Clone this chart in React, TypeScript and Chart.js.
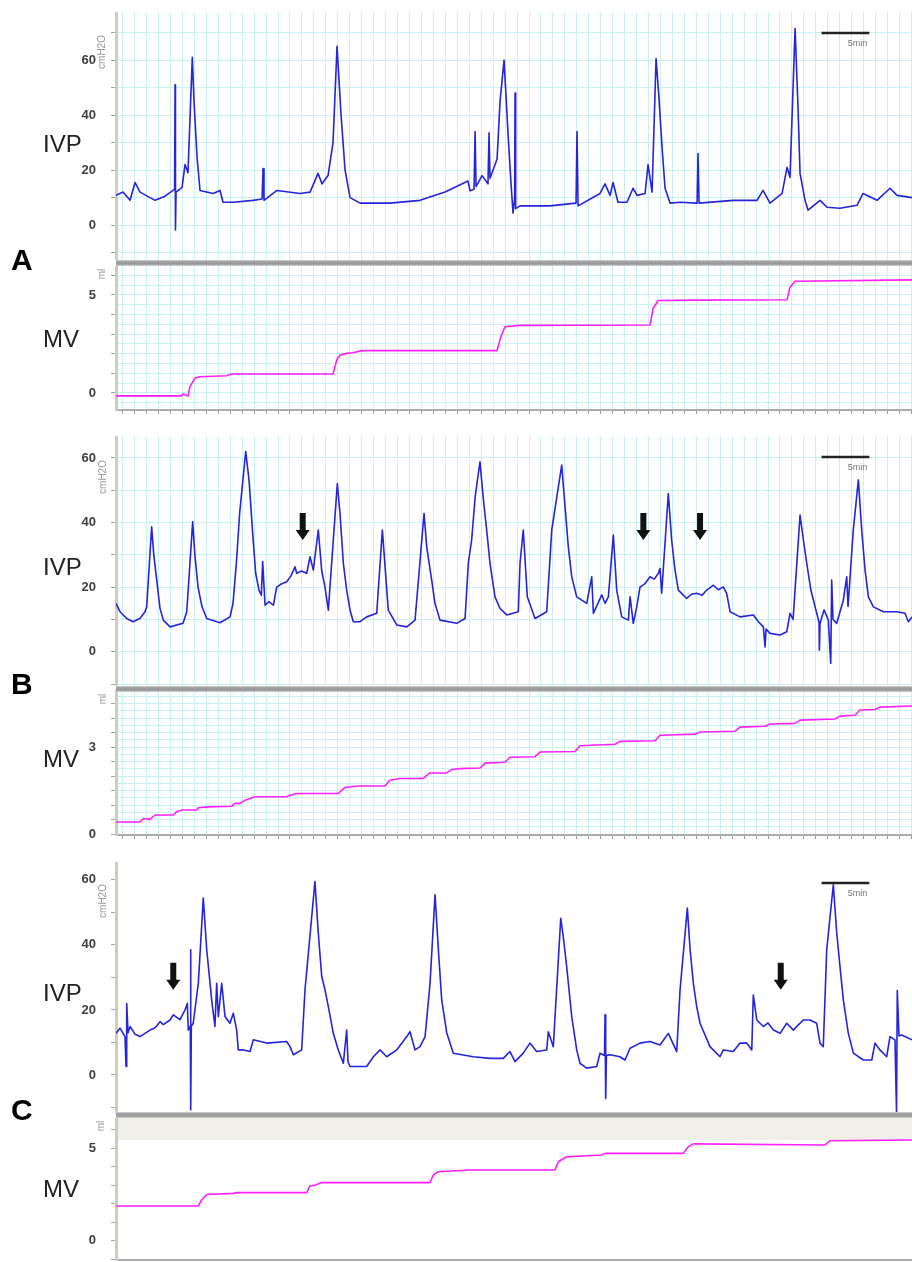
import React, { useEffect, useRef } from "react";
import { Chart, registerables } from "chart.js";
Chart.register(...registerables);

// ---------- axis ranges (minutes) ----------
const X_MIN = -3.2;
const X_MAX = 80.06;
const X_GRID_STEP = 1.25;

// ---------- series: [time (min), value] ----------
const ivpA: [number, number][] = [
  [-3.2, 10.8], [-2.47, 12], [-1.73, 9], [-1.21, 15.5], [-0.69, 12], [0.36, 10], [0.88, 9], [1.93, 10.5],
  [2.77, 12.6], [2.93, 13], [2.98, 51], [3.02, -1.8], [3.08, 12], [3.71, 13.7], [4.02, 22], [4.33, 19],
  [4.78, 61], [4.96, 45], [5.28, 24.5], [5.59, 12.6], [6.95, 11.5], [7.68, 12.6], [8.0, 8.3], [9.04, 8.3],
  [11.13, 9], [12.08, 9.5], [12.18, 20.6], [12.28, 9], [13.64, 12.6], [16.05, 11.5], [17.1, 12], [17.93, 18.8],
  [18.35, 15], [18.98, 18], [19.5, 30], [19.92, 65], [20.34, 40], [20.76, 20], [21.28, 10], [22.33, 8],
  [25.46, 8], [28.6, 9], [31.22, 12], [33.62, 16], [33.83, 12.5], [34.25, 13], [34.36, 34], [34.46, 14],
  [35.09, 18], [35.71, 15], [35.82, 33.6], [35.92, 17], [36.24, 20], [36.66, 24], [36.97, 45], [37.39, 60],
  [37.81, 33], [38.12, 15], [38.33, 4.3], [38.5, 10], [38.54, 48], [38.6, 6], [39.06, 7], [42.2, 7],
  [44.92, 8], [45.02, 34], [45.13, 7], [47.43, 11.5], [47.95, 15], [48.48, 10.8], [48.79, 15.5], [49.31, 8.3],
  [50.25, 8.3], [50.88, 13.4], [51.3, 10.8], [52.14, 11.5], [52.45, 22], [52.87, 12], [53.29, 60.6], [53.6, 46],
  [53.92, 28], [54.23, 13.4], [54.75, 8], [55.8, 8.3], [57.58, 8], [57.68, 26], [57.79, 8], [61.34, 9],
  [63.85, 9], [64.48, 12.6], [65.21, 8], [66.47, 11.5], [66.99, 21], [67.3, 17.3], [67.83, 71.5], [68.14, 42.6],
  [68.35, 18.8], [68.87, 9], [69.19, 5.4], [70.44, 9], [71.17, 6.5], [72.53, 6.1], [74.31, 7.2], [74.94, 11.5],
  [76.4, 9], [77.76, 13.4], [78.5, 10.8], [80.06, 10],
];

const mvA: [number, number][] = [
  [-3.2, -0.15], [3.67, -0.15], [3.81, -0.05], [4.33, -0.15], [4.54, 0.32], [5.06, 0.76], [5.59, 0.83],
  [8.38, 0.88], [8.9, 0.97], [19.5, 0.97], [19.89, 1.68], [20.23, 1.94], [20.93, 2.02], [21.59, 2.05],
  [22.5, 2.16], [36.65, 2.16], [37.07, 2.9], [37.49, 3.38], [39.06, 3.45], [52.66, 3.47], [52.97, 4.3],
  [53.5, 4.72], [57.89, 4.74], [66.99, 4.76], [67.3, 5.4], [67.83, 5.7], [80.06, 5.77],
];

const ivpB: [number, number][] = [
  [-3.2, 15], [-2.78, 12.4], [-2.08, 10.3], [-1.42, 9.3], [-0.69, 10.3], [-0.17, 12.4], [0.01, 13.9],
  [0.53, 38.7], [0.75, 30], [1.06, 22.2], [1.4, 13.5], [1.75, 9.8], [2.45, 7.7], [3.81, 8.8], [4.2, 12.4],
  [4.82, 40.2], [5.05, 30], [5.38, 20], [5.79, 14], [6.29, 10.3], [7.68, 9], [8.73, 10.8], [9.04, 15],
  [9.39, 27.4], [9.73, 42.8], [10.37, 62], [10.72, 53], [11.07, 37.7], [11.41, 24.3], [11.76, 19],
  [12.0, 17.5], [12.14, 27.9], [12.39, 14.4], [12.8, 15.5], [13.26, 14.4], [13.61, 20], [14.1, 21],
  [14.66, 21.7], [15.1, 23.5], [15.52, 26.3], [15.7, 24.3], [16.2, 25], [16.75, 24.3], [17.09, 29.4],
  [17.44, 25.3], [17.96, 37.7], [18.32, 25], [18.66, 20], [19.01, 12.9], [19.18, 20], [19.95, 52.1],
  [20.23, 42.8], [20.58, 27.4], [20.93, 19], [21.28, 12.9], [21.62, 9.3], [22.32, 9.3], [23.02, 10.8],
  [24.07, 11.9], [24.66, 37.7], [25.28, 12.9], [26.16, 8.3], [27.21, 7.7], [28.08, 9.8], [29.02, 42.8],
  [29.3, 32.5], [29.82, 22.2], [30.16, 15], [30.69, 9.8], [32.44, 8.8], [33.31, 10.3], [33.65, 27.4],
  [34.0, 34.6], [34.37, 48], [34.87, 58.8], [35.2, 48], [35.57, 37.7], [35.92, 27.4], [36.44, 17],
  [36.97, 13.4], [37.67, 11.4], [38.88, 12.4], [39.06, 27.4], [39.4, 37.7], [39.82, 17], [40.63, 10.3],
  [41.85, 12.4], [42.38, 37.7], [43.42, 57.8], [43.77, 44.9], [44.11, 32.5], [44.47, 23.2], [44.99, 17],
  [46.04, 15], [46.56, 23.2], [46.73, 11.9], [47.61, 17.6], [47.95, 15], [48.3, 17], [48.82, 36.1],
  [49.17, 19.1], [49.7, 10.8], [50.39, 9.8], [50.57, 17], [50.91, 8.8], [51.27, 13.9], [51.61, 20],
  [52.1, 21], [52.66, 23.2], [53.1, 22.5], [53.53, 24.3], [53.7, 25.8], [53.88, 18.1], [54.57, 49],
  [54.92, 34.6], [55.27, 25.3], [55.62, 19.1], [56.49, 16.5], [57.0, 17.8], [57.54, 18.1], [58.1, 17.5],
  [58.59, 19.1], [59.28, 20.6], [59.8, 19.2], [60.32, 20.1], [60.68, 18], [61.03, 12.4], [62.07, 10.8],
  [63.47, 11.4], [63.99, 9.3], [64.51, 7.7], [64.69, 1.5], [64.79, 7], [65.21, 5.7], [66.26, 5.2],
  [66.96, 6.2], [67.3, 11.9], [67.62, 10], [68.35, 42.3], [68.7, 34.6], [69.05, 27.4], [69.48, 19.1],
  [70.1, 11.9], [70.34, 9], [70.37, 0.5], [70.44, 8.8], [70.86, 13], [71.31, 9.8], [71.56, -3.6],
  [71.66, 22.2], [71.8, 10], [72.19, 8.8], [72.88, 16], [73.23, 23.2], [73.37, 14], [73.92, 37.7],
  [74.45, 53.2], [74.8, 37.7], [75.15, 25.3], [75.5, 17], [76.02, 13.9], [77.06, 12.4], [78.46, 12.4],
  [79.33, 11.9], [79.68, 9.3], [80.06, 10.8],
];

const mvB: [number, number][] = [
  [-3.2, 0.42], [-0.69, 0.42], [-0.34, 0.54], [0.36, 0.51], [0.88, 0.66], [2.79, 0.66], [3.15, 0.77],
  [3.67, 0.83], [5.24, 0.83], [5.41, 0.91], [6.45, 0.94], [8.9, 0.96], [9.25, 1.06], [9.77, 1.06],
  [10.29, 1.17], [11.34, 1.29], [14.65, 1.29], [15.0, 1.34], [15.7, 1.4], [20.05, 1.4], [20.75, 1.61],
  [22.14, 1.66], [24.94, 1.66], [25.46, 1.86], [26.51, 1.92], [28.94, 1.92], [29.64, 2.11], [31.39, 2.11],
  [31.91, 2.23], [32.78, 2.26], [34.87, 2.28], [35.4, 2.45], [37.49, 2.48], [38.02, 2.65], [40.63, 2.67],
  [41.15, 2.83], [44.81, 2.85], [45.34, 3.05], [48.99, 3.1], [49.52, 3.2], [53.18, 3.22], [53.7, 3.41],
  [57.36, 3.45], [57.89, 3.52], [61.55, 3.55], [62.07, 3.69], [64.69, 3.72], [65.21, 3.8], [67.83, 3.82],
  [68.35, 3.93], [72.01, 3.97], [72.53, 4.07], [74.1, 4.1], [74.62, 4.28], [76.19, 4.3], [76.71, 4.38],
  [80.06, 4.42],
];

const ivpC: [number, number][] = [
  [-3.2, 12.8], [-2.78, 14.4], [-2.26, 11.8], [-2.15, 2.6], [-2.08, 22], [-1.94, 13], [-1.73, 14.9],
  [-1.2, 12.5], [-0.69, 11.8], [0.36, 13.8], [0.9, 14.5], [1.4, 16.4], [1.75, 15.5], [2.45, 16.9],
  [2.79, 18.5], [3.49, 17], [4.02, 20], [4.26, 22], [4.36, 13.8], [4.57, 15], [4.6, 38.5], [4.63, -10.8],
  [4.68, 15], [4.88, 15.9], [5.41, 28.2], [5.93, 54.4], [6.29, 38.5], [6.81, 23], [7.15, 14.9], [7.33, 28.2],
  [7.5, 17.9], [7.86, 28.2], [8.2, 18], [8.72, 15.9], [9.07, 19], [9.42, 13.8], [9.59, 7.7], [10.11, 7.7],
  [10.82, 7.2], [11.16, 10.8], [12.56, 9.8], [14.65, 10.3], [15.0, 8.7], [15.35, 6.2], [16.22, 7.7],
  [16.57, 26.2], [17.61, 59.5], [17.96, 43.6], [18.32, 30.3], [18.66, 26.2], [19.01, 21], [19.53, 12.8],
  [20.05, 7.7], [20.58, 3.6], [20.93, 13.8], [21.07, 4], [21.28, 2.6], [23.02, 2.6], [23.72, 5.6],
  [24.42, 7.7], [25.12, 5.6], [26.16, 7.7], [27.21, 11.8], [27.55, 13.3], [28.08, 7.7], [28.6, 8.7],
  [29.13, 11.8], [29.65, 28.2], [30.17, 55.4], [30.52, 38.5], [30.87, 23], [31.39, 13], [32.08, 6.7],
  [34.17, 5.6], [35.92, 5.1], [37.31, 5.1], [38.01, 7.2], [38.53, 4.1], [39.4, 6.7], [40.1, 9.8],
  [40.8, 7.2], [41.85, 7.7], [42.02, 13.3], [42.54, 8.7], [43.32, 48.2], [43.58, 42.6], [43.94, 33.3],
  [44.47, 17.9], [44.99, 7.7], [45.33, 3.6], [46.03, 2.1], [47.08, 2.6], [47.43, 6.7], [47.9, 6],
  [47.95, 18.5], [48.02, -7.2], [48.1, 6], [48.47, 6.2], [49.52, 5.6], [50.04, 4.6], [50.57, 8.2],
  [51.61, 9.8], [52.66, 10.3], [53.7, 9.2], [54.57, 12.8], [55.45, 7.2], [55.8, 26.2], [56.56, 51.3],
  [56.85, 38.5], [57.19, 28.2], [57.54, 21], [57.89, 15.9], [58.93, 8.7], [59.98, 5.6], [60.32, 7.7],
  [61.37, 7.2], [62.07, 9.8], [62.77, 9.8], [63.3, 7.7], [63.46, 24.6], [63.82, 16.9], [64.51, 14.9],
  [65.0, 16], [65.56, 13.8], [66.26, 12.8], [66.96, 15.9], [67.65, 13.8], [68.2, 15.5], [68.69, 16.9],
  [69.39, 16.9], [70.09, 15.9], [70.44, 9.8], [70.78, 8.7], [71.14, 38.5], [71.83, 58.5], [72.19, 43.6],
  [72.53, 33.3], [72.88, 23], [73.4, 12.8], [73.93, 6.7], [74.97, 4.6], [75.85, 4.6], [76.19, 9.8],
  [76.71, 7.7], [77.41, 5.6], [77.76, 11.8], [78.28, 10.8], [78.44, -11.5], [78.52, 26], [78.7, 12],
  [78.98, 12.3], [80.06, 10.8],
];

const mvC: [number, number][] = [
  [-3.2, 1.88], [5.41, 1.88], [5.76, 2.2], [6.29, 2.5], [9.07, 2.56], [9.42, 2.6], [16.74, 2.6],
  [17.09, 2.96], [17.61, 3.0], [18.32, 3.14], [29.64, 3.14], [29.99, 3.55], [30.51, 3.73], [33.83, 3.82],
  [42.72, 3.82], [43.07, 4.27], [43.94, 4.54], [47.6, 4.63], [47.95, 4.72], [56.14, 4.72], [56.66, 5.08],
  [57.19, 5.23], [70.96, 5.17], [71.48, 5.4], [80.06, 5.44],
];

// ---------- annotations ----------
const arrowsB: [number, number][] = [[16.33, 34.6], [51.96, 34.6], [57.89, 34.6]];
const arrowsC: [number, number][] = [[2.79, 26.2], [66.33, 26.2]];
const scaleBarStart = 70.6;
const scaleBarMinutes = 5;
const scaleBarLabel = "5min";
const ivpTickLabels = [0, 20, 40, 60];
const mvATickLabels = [0, 5];
const mvBTickLabels = [0, 3];
const mvCTickLabels = [0, 5];
const mvCBandFrom = 5.44;

const GRID = "#c9f1f3";
const BLUE = "#2424dc";
const MAGENTA = "#ff1eff";
const FONT = '"Liberation Sans", Arial, sans-serif';

type Spec = {
  top: number; height: number; extra: number;
  yMin: number; yMax: number; gridStep: number; tickStep: number; labels: number[];
  series: [number, number][]; color: string; lineWidth: number;
  grid: boolean; xTicks: boolean; xBorder: boolean;
  band?: number; arrows?: [number, number][]; scaleBar?: boolean;
};

const isMult = (v: number, s: number) => Math.abs(v / s - Math.round(v / s)) < 1e-6;

function Panel({ spec }: { spec: Spec }) {
  const ref = useRef<HTMLCanvasElement>(null);
  useEffect(() => {
    const p = spec;
    const decor = {
      id: "decor",
      beforeDatasetsDraw(chart: any) {
        if (p.band === undefined) return;
        const { ctx, chartArea, scales } = chart;
        const yb = scales.y.getPixelForValue(p.band);
        ctx.save();
        ctx.fillStyle = "#f1f0e8";
        ctx.fillRect(chartArea.left + 2, chartArea.top, chartArea.right - chartArea.left - 2, yb - chartArea.top);
        ctx.restore();
      },
      afterDatasetsDraw(chart: any) {
        const { ctx, chartArea, scales } = chart;
        ctx.save();
        if (p.arrows) {
          ctx.fillStyle = "#111";
          for (const [t, v] of p.arrows) {
            const x = scales.x.getPixelForValue(t);
            const y = scales.y.getPixelForValue(v);
            ctx.beginPath();
            ctx.moveTo(x, y);
            ctx.lineTo(x - 7, y - 10);
            ctx.lineTo(x - 3, y - 10);
            ctx.lineTo(x - 3, y - 27);
            ctx.lineTo(x + 3, y - 27);
            ctx.lineTo(x + 3, y - 10);
            ctx.lineTo(x + 7, y - 10);
            ctx.closePath();
            ctx.fill();
          }
        }
        if (p.scaleBar) {
          const x1 = scales.x.getPixelForValue(scaleBarStart);
          const x2 = scales.x.getPixelForValue(scaleBarStart + scaleBarMinutes);
          const y = chartArea.top + 21;
          ctx.strokeStyle = "#222";
          ctx.lineWidth = 2.5;
          ctx.beginPath();
          ctx.moveTo(x1, y);
          ctx.lineTo(x2, y);
          ctx.stroke();
          ctx.fillStyle = "#777";
          ctx.font = `9px ${FONT}`;
          ctx.textAlign = "right";
          ctx.textBaseline = "alphabetic";
          ctx.fillText(scaleBarLabel, x2 - 2, y + 13);
        }
        ctx.restore();
      },
    };
    const chart = new Chart(ref.current as HTMLCanvasElement, {
      type: "line",
      data: {
        datasets: [
          {
            data: p.series.map(([x, y]) => ({ x, y })),
            borderColor: p.color,
            borderWidth: p.lineWidth,
            pointRadius: 0,
            tension: 0,
            fill: false,
            borderJoinStyle: "round",
          },
        ],
      },
      options: {
        animation: false,
        responsive: true,
        maintainAspectRatio: false,
        events: [],
        layout: { padding: 0 },
        plugins: { legend: { display: false }, tooltip: { enabled: false } },
        scales: {
          x: {
            type: "linear",
            min: X_MIN,
            max: X_MAX,
            afterBuildTicks: (s: any) => {
              const ticks = [];
              for (let v = -2.5; v <= X_MAX + 1e-9; v += X_GRID_STEP) ticks.push({ value: Math.round(v * 1000) / 1000 });
              s.ticks = ticks;
            },
            afterFit: (s: any) => {
              s.height = p.extra;
              s.paddingLeft = 0;
              s.paddingRight = 0;
            },
            grid: {
              color: p.grid ? GRID : "transparent",
              lineWidth: 1,
              drawTicks: p.xTicks,
              tickLength: 4,
              tickColor: "#9a9a9a",
            },
            border: { display: p.xBorder, color: "#ababab", width: 2 },
            ticks: { display: false, autoSkip: false },
          },
          y: {
            type: "linear",
            min: p.yMin,
            max: p.yMax,
            afterBuildTicks: (s: any) => {
              const ticks = [];
              const start = Math.ceil(p.yMin / p.gridStep - 1e-9) * p.gridStep;
              for (let v = start; v <= p.yMax + 1e-9; v += p.gridStep) ticks.push({ value: Math.round(v * 1000) / 1000 });
              s.ticks = ticks;
            },
            afterFit: (s: any) => {
              s.width = 116;
              s.paddingTop = 0;
              s.paddingBottom = 0;
            },
            grid: {
              color: p.grid ? GRID : "transparent",
              lineWidth: 1,
              drawTicks: true,
              tickLength: 5,
              tickColor: (c: any) => (c.tick && isMult(c.tick.value, p.tickStep) ? "#a3a39a" : "transparent"),
            },
            border: { display: true, color: "#cdcdbe", width: 3 },
            ticks: {
              autoSkip: false,
              padding: 15,
              color: "#3f3f3f",
              font: { family: FONT, size: 13, weight: "bold" },
              callback: (v: any) => (p.labels.some((l) => Math.abs(l - Number(v)) < 1e-6) ? String(Math.round(Number(v))) : ""),
            },
          },
        },
      },
      plugins: [decor],
    } as any);
    return () => chart.destroy();
  }, [spec]);
  return (
    <div style={{ position: "absolute", left: 0, top: spec.top, width: 912, height: spec.height + spec.extra }}>
      <canvas ref={ref} />
    </div>
  );
}

const panels: Spec[] = [
  { top: 12, height: 248, extra: 0, yMin: -12.7, yMax: 77.5, gridStep: 10, tickStep: 10, labels: ivpTickLabels,
    series: ivpA, color: BLUE, lineWidth: 1.6, grid: true, xTicks: false, xBorder: false, scaleBar: true },
  { top: 266, height: 144, extra: 5, yMin: -0.87, yMax: 6.48, gridStep: 0.5, tickStep: 1, labels: mvATickLabels,
    series: mvA, color: MAGENTA, lineWidth: 1.6, grid: true, xTicks: true, xBorder: true },
  { top: 436, height: 250, extra: 0, yMin: -10.6, yMax: 66.8, gridStep: 10, tickStep: 10, labels: ivpTickLabels,
    series: ivpB, color: BLUE, lineWidth: 1.6, grid: true, xTicks: false, xBorder: false, scaleBar: true, arrows: arrowsB },
  { top: 690, height: 145, extra: 5, yMin: -0.03, yMax: 4.97, gridStep: 0.25, tickStep: 0.5, labels: mvBTickLabels,
    series: mvB, color: MAGENTA, lineWidth: 1.6, grid: true, xTicks: true, xBorder: true },
  { top: 862, height: 251, extra: 0, yMin: -11.7, yMax: 65.5, gridStep: 10, tickStep: 10, labels: ivpTickLabels,
    series: ivpC, color: BLUE, lineWidth: 1.6, grid: false, xTicks: false, xBorder: false, scaleBar: true, arrows: arrowsC },
  { top: 1118, height: 142, extra: 2, yMin: -1.04, yMax: 6.63, gridStep: 1, tickStep: 1, labels: mvCTickLabels,
    series: mvC, color: MAGENTA, lineWidth: 1.6, grid: false, xTicks: false, xBorder: true, band: mvCBandFrom },
];

const separators = [260, 686, 1112];

const sideLabels: { text: string; top: number; size: number; bold?: boolean; left: number }[] = [
  { text: "IVP", top: 132, size: 24, left: 43 },
  { text: "MV", top: 327, size: 24, left: 43 },
  { text: "IVP", top: 555, size: 24, left: 43 },
  { text: "MV", top: 747, size: 24, left: 43 },
  { text: "IVP", top: 981, size: 24, left: 43 },
  { text: "MV", top: 1177, size: 24, left: 43 },
  { text: "A", top: 245, size: 30, bold: true, left: 11 },
  { text: "B", top: 669, size: 30, bold: true, left: 11 },
  { text: "C", top: 1095, size: 30, bold: true, left: 11 },
];

const unitLabels: { text: string; cx: number; cy: number }[] = [
  { text: "cmH2O", cx: 102, cy: 52 },
  { text: "ml", cx: 102, cy: 274 },
  { text: "cmH2O", cx: 103, cy: 477 },
  { text: "ml", cx: 103, cy: 699 },
  { text: "cmH2O", cx: 103, cy: 901 },
  { text: "ml", cx: 101, cy: 1126 },
];

export default function App() {
  return (
    <div
      style={{
        position: "absolute", left: 0, top: 0, width: 912, height: 1262, background: "#fff",
        overflow: "hidden", fontFamily: FONT,
      }}
    >
      {panels.map((s, i) => (
        <Panel key={i} spec={s} />
      ))}
      {separators.map((t, i) => (
        <div
          key={"s" + i}
          style={{
            position: "absolute", left: 116, top: t, width: 796, height: 6,
            background: "linear-gradient(#dcdcdc 0%, #a2a2a2 25%, #9a9a9a 70%, #d6d6d6 100%)",
          }}
        />
      ))}
      {sideLabels.map((l, i) => (
        <div
          key={"l" + i}
          style={{
            position: "absolute", left: l.left, top: l.top, fontSize: l.size, lineHeight: l.size + "px",
            fontWeight: l.bold ? "bold" : "normal", color: l.bold ? "#000" : "#222", whiteSpace: "nowrap",
          }}
        >
          {l.text}
        </div>
      ))}
      {unitLabels.map((u, i) => (
        <div
          key={"u" + i}
          style={{
            position: "absolute", left: u.cx, top: u.cy, fontSize: 10, lineHeight: "10px", color: "#9a9a9a",
            whiteSpace: "nowrap", transform: "translate(-50%, -50%) rotate(-90deg)",
          }}
        >
          {u.text}
        </div>
      ))}
    </div>
  );
}
